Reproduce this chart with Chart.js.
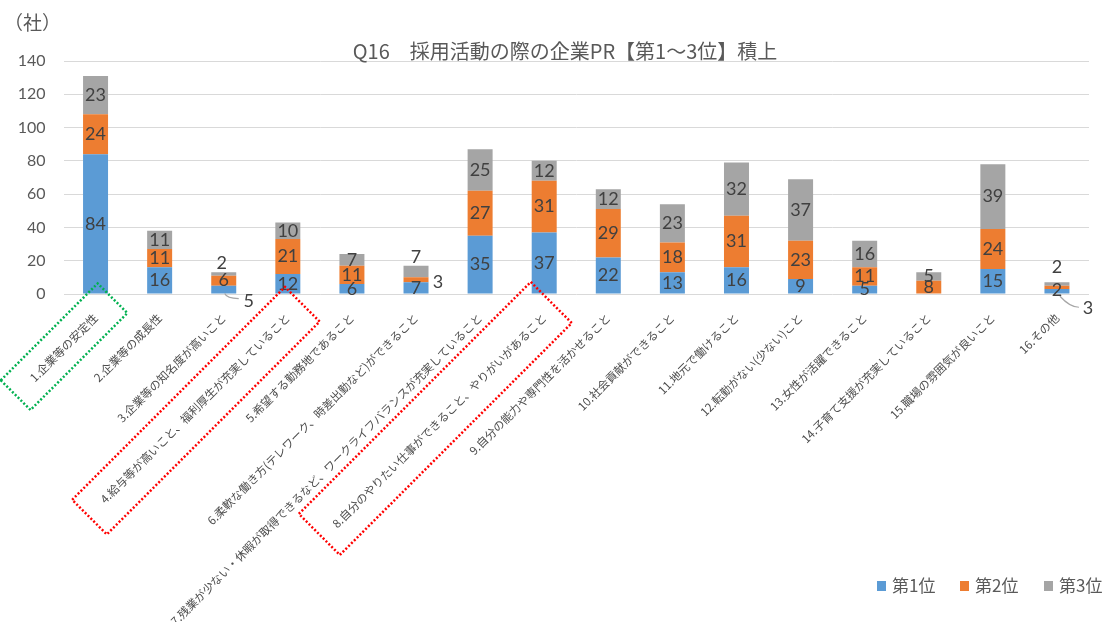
<!DOCTYPE html>
<html lang="ja">
<head>
<meta charset="utf-8">
<title>採用活動の際の企業PR</title>
<script src="https://cdn.jsdelivr.net/npm/chart.js@4.4.1/dist/chart.umd.min.js"></script>
<style>
  html, body { margin: 0; padding: 0; background: #fff; }
  #wrap { position: relative; width: 1108px; height: 622px; }
</style>
</head>
<body>
<div id="wrap"><canvas id="prChart"></canvas></div>
<script>
// 項目名
const categories = [
  '1.企業等の安定性',
  '2.企業等の成長性',
  '3.企業等の知名度が高いこと',
  '4.給与等が高いこと、福利厚生が充実していること',
  '5.希望する勤務地であること',
  '6.柔軟な働き方(テレワーク、時差出勤など)ができること',
  '7.残業が少ない・休暇が取得できるなど、ワークライフバランスが充実していること',
  '8.自分のやりたい仕事ができること、やりがいがあること',
  '9.自分の能力や専門性を活かせること',
  '10.社会貢献ができること',
  '11.地元で働けること',
  '12.転勤がない(少ない)こと',
  '13.女性が活躍できること',
  '14.子育て支援が充実していること',
  '15.職場の雰囲気が良いこと',
  '16.その他'
];

// 回答社数（順位別）
const rank1 = [84, 16, 5, 12, 6, 7, 35, 37, 22, 13, 16, 9, 5, 0, 15, 3];
const rank2 = [24, 11, 6, 21, 11, 3, 27, 31, 29, 18, 31, 23, 11, 8, 24, 2];
const rank3 = [23, 11, 2, 10, 7, 7, 25, 12, 12, 23, 32, 37, 16, 5, 39, 2];

const seriesNames = ['第1位', '第2位', '第3位'];
const seriesColors = ['#5B9BD5', '#ED7D31', '#A5A5A5'];

const yTicks = [0, 20, 40, 60, 80, 100, 120, 140];

const chartTitle = 'Q16\u3000採用活動の際の企業PR【第1～3位】積上';
const unitLabel = '（社）';

// ラベルを棒の外に出すもの（dataset:index）
const labelSpots = {
  '0:2': { dx: 25, dy: 12, leader: [[1, 4], [3, 9], [15, 9]] },
  '2:2': { dx: -2, dy: -11 },
  '1:5': { dx: 22, dy: 2 },
  '2:5': { dx: 0, dy: -14.5 },
  '0:15': { dx: 31, dy: 16.5, leader: [[3, 5], [13, 16], [22, 16]] },
  '1:15': { dx: 0, dy: 3 },
  '2:15': { dx: 0, dy: -17 }
};

// 項目名を囲む点線枠（目盛り位置を原点に45°回転した座標）
const markBoxes = [
  { index: 0, color: '#00B050', x0: -128, x1: 9, y0: -6, y1: 36 },
  { index: 3, color: '#FF0000', x0: -298, x1: 3, y0: -7, y1: 42 },
  { index: 7, color: '#FF0000', x0: -329, x1: -1, y0: -18, y1: 40 }
];

const valueLabels = {
  id: 'valueLabels',
  afterDatasetsDraw(chart) {
    const ctx = chart.ctx;
    ctx.save();
    ctx.font = '18px Lato';
    ctx.fillStyle = '#404040';
    ctx.textAlign = 'center';
    ctx.textBaseline = 'middle';
    chart.data.datasets.forEach((ds, di) => {
      chart.getDatasetMeta(di).data.forEach((bar, i) => {
        const v = ds.data[i];
        if (!v) return;
        const cx = bar.x;
        const cy = (bar.y + bar.base) / 2;
        const spot = labelSpots[di + ':' + i] || { dx: 0, dy: 0 };
        if (spot.leader) {
          const p = spot.leader;
          ctx.strokeStyle = '#A6A6A6';
          ctx.lineWidth = 1.2;
          ctx.beginPath();
          ctx.moveTo(cx + p[0][0], cy + p[0][1]);
          ctx.quadraticCurveTo(cx + p[1][0], cy + p[1][1], cx + p[2][0], cy + p[2][1]);
          ctx.stroke();
        }
        ctx.fillText(String(v), cx + spot.dx, cy + spot.dy);
      });
    });
    ctx.restore();
  }
};

const decorations = {
  id: 'decorations',
  afterDraw(chart) {
    const ctx = chart.ctx;
    const xScale = chart.scales.x;
    const bottom = chart.chartArea.bottom;
    ctx.save();

    // 点線枠
    markBoxes.forEach(b => {
      ctx.save();
      ctx.translate(xScale.getPixelForTick(b.index), bottom);
      ctx.rotate(-Math.PI / 4);
      ctx.strokeStyle = b.color;
      ctx.lineWidth = 2.5;
      ctx.setLineDash([2, 2]);
      ctx.strokeRect(b.x0, b.y0, b.x1 - b.x0, b.y1 - b.y0);
      ctx.restore();
    });

    // 単位とタイトル
    ctx.fillStyle = '#595959';
    ctx.textBaseline = 'middle';
    ctx.font = '19px "Noto Sans CJK JP"';
    ctx.textAlign = 'left';
    ctx.fillText(unitLabel, 4, 23);
    ctx.font = '20px "Noto Sans CJK JP"';
    ctx.textAlign = 'center';
    ctx.fillText(chartTitle, 565, 51);

    // 凡例
    ctx.font = '17px "Noto Sans CJK JP"';
    ctx.textAlign = 'left';
    const legendX = [877, 960, 1044];
    chart.data.datasets.forEach((ds, i) => {
      ctx.fillStyle = ds.backgroundColor;
      ctx.fillRect(legendX[i], 581, 9, 10);
      ctx.fillStyle = '#595959';
      ctx.fillText(ds.label, legendX[i] + 15, 586);
    });
    ctx.restore();
  }
};

const datasets = [rank1, rank2, rank3].map((values, i) => ({
  label: seriesNames[i],
  data: values,
  backgroundColor: seriesColors[i],
  borderWidth: 0,
  barPercentage: 0.39,
  categoryPercentage: 1
}));

new Chart(document.getElementById('prChart'), {
  type: 'bar',
  data: { labels: categories, datasets: datasets },
  options: {
    responsive: true,
    maintainAspectRatio: false,
    animation: false,
    layout: { padding: { top: 61, right: 19, bottom: 0, left: 0 } },
    plugins: {
      legend: { display: false },
      tooltip: { enabled: false }
    },
    scales: {
      x: {
        stacked: true,
        grid: { display: false },
        border: { display: false },
        ticks: {
          autoSkip: false,
          maxRotation: 45,
          minRotation: 45,
          padding: 9,
          color: '#4D4D4D',
          font: { family: '"Noto Sans CJK JP", sans-serif', size: 11.5 }
        },
        afterFit(scale) { scale.height = 328; }
      },
      y: {
        stacked: true,
        min: 0,
        max: 140,
        grid: { color: '#D9D9D9', drawTicks: false },
        border: { display: false },
        ticks: {
          padding: 18,
          color: '#595959',
          font: { family: 'Lato, sans-serif', size: 16 }
        },
        afterBuildTicks(scale) { scale.ticks = yTicks.map(v => ({ value: v })); },
        afterFit(scale) { scale.width = 63.5; }
      }
    }
  },
  plugins: [valueLabels, decorations]
});
</script>
</body>
</html>
